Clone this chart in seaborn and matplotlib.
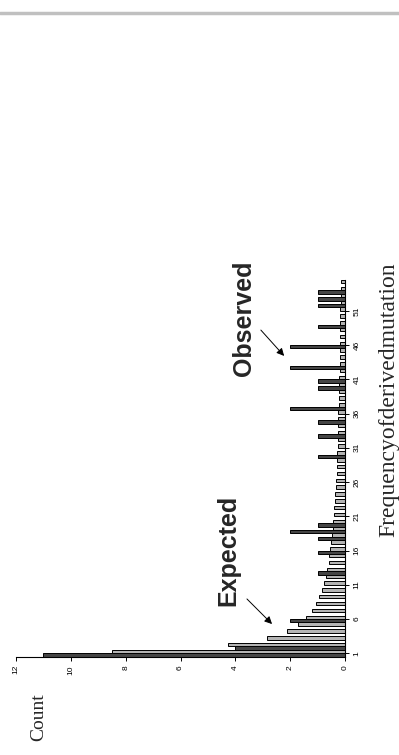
import numpy as np
import pandas as pd
import matplotlib
matplotlib.use("Agg")
import matplotlib.pyplot as plt
from matplotlib.lines import Line2D
import seaborn as sns

# ---- data ----
frequencies = list(range(1, 56))
observed_nonzero = {1: 11, 2: 4, 6: 2, 13: 1, 16: 1, 18: 1, 19: 2, 20: 1,
                    30: 1, 33: 1, 35: 1, 37: 2, 40: 1, 41: 1, 43: 2, 46: 2,
                    49: 1, 52: 1, 53: 1, 54: 1}
observed = [observed_nonzero.get(f, 0) for f in frequencies]
expected = [8.5, 4.25, 2.85, 2.13, 1.7, 1.42, 1.2, 1.07, 0.95, 0.85,
            0.77, 0.71, 0.65, 0.6, 0.57, 0.53, 0.5, 0.47, 0.45, 0.43,
            0.4, 0.39, 0.37, 0.35, 0.34, 0.33, 0.31, 0.3, 0.29, 0.28,
            0.27, 0.27, 0.26, 0.25, 0.24, 0.24, 0.23, 0.22, 0.22, 0.21,
            0.21, 0.2, 0.2, 0.19, 0.19, 0.18, 0.18, 0.18, 0.17, 0.17,
            0.17, 0.16, 0.16, 0.16, 0.15]
series_names = ["Observed", "Expected"]
count_ticks = [0, 2, 4, 6, 8, 10, 12]
freq_tick_labels = ["1", "6", "11", "16", "21", "26", "31", "36", "41", "46", "51"]

df = pd.DataFrame({
    "freq": [str(f) for f in frequencies] * 2,
    "count": observed + expected,
    "series": [series_names[0]] * len(frequencies) + [series_names[1]] * len(frequencies),
})

sns.set_style("white")
plt.rcParams["font.family"] = ["Liberation Sans", "DejaVu Sans"]

fig = plt.figure(figsize=(3.99, 7.55), dpi=100)
ax = fig.add_axes([16 / 399, 1 - 656.7 / 755, (345 - 16) / 399, (656.7 - 280) / 755])

sns.barplot(data=df, y="freq", x="count", hue="series", orient="h",
            order=[str(f) for f in frequencies], hue_order=series_names,
            palette={"Observed": "#454545", "Expected": "#b4b4b4"},
            edgecolor="black", linewidth=0.7, width=1.0, saturation=1,
            legend=False, ax=ax)

n = len(frequencies)
ax.set_ylim(-0.5, n - 0.5)
ax.set_xlim(12, 0)

for s in ["top", "left"]:
    ax.spines[s].set_visible(False)
for s in ["bottom", "right"]:
    ax.spines[s].set_color("black")
    ax.spines[s].set_linewidth(0.8)

ax.yaxis.tick_right()
ax.set_yticks([int(t) - 1 for t in freq_tick_labels])
ax.set_yticklabels(freq_tick_labels, rotation=90, va="center", fontsize=6)
ax.set_xticks(count_ticks)
ax.set_xticklabels([str(t) for t in count_ticks], rotation=90, ha="center", fontsize=6)
ax.tick_params(axis="both", direction="out", length=3, width=0.7, pad=3, colors="black")
ax.tick_params(axis="y", right=True, left=False)
ax.tick_params(axis="x", bottom=True)
ax.set_xlabel("")
ax.set_ylabel("")

# axis titles
fig.text(39 / 399, 1 - 717 / 755, "Count", rotation=90, ha="center", va="center",
         fontsize=14, family=["Liberation Serif", "DejaVu Serif"])
fig.text(389 / 399, 1 - 400 / 755, "Frequencyofderivedmutation", rotation=90,
         ha="center", va="center", fontsize=17, family=["Liberation Serif", "DejaVu Serif"])

# annotations
fig.text(228 / 399, 1 - 550 / 755, "Expected", rotation=90, ha="center", va="center",
         fontsize=18, fontweight="bold")
fig.text(244 / 399, 1 - 318 / 755, "Observed", rotation=90, ha="center", va="center",
         fontsize=18, fontweight="bold")
ax.annotate("", xy=(274 / 399, 1 - 626 / 755), xytext=(245 / 399, 1 - 597 / 755),
            xycoords="figure fraction", textcoords="figure fraction",
            arrowprops=dict(arrowstyle="-|>", color="black", lw=0.7, mutation_scale=11))
ax.annotate("", xy=(286 / 399, 1 - 358 / 755), xytext=(259 / 399, 1 - 328 / 755),
            xycoords="figure fraction", textcoords="figure fraction",
            arrowprops=dict(arrowstyle="-|>", color="black", lw=0.7, mutation_scale=11))

# top page rule
fig.add_artist(Line2D([0, 1], [1 - 13 / 755, 1 - 13 / 755], transform=fig.transFigure,
                      color="#c0c0c0", lw=2.5))

fig.savefig("out.png", dpi=100)
